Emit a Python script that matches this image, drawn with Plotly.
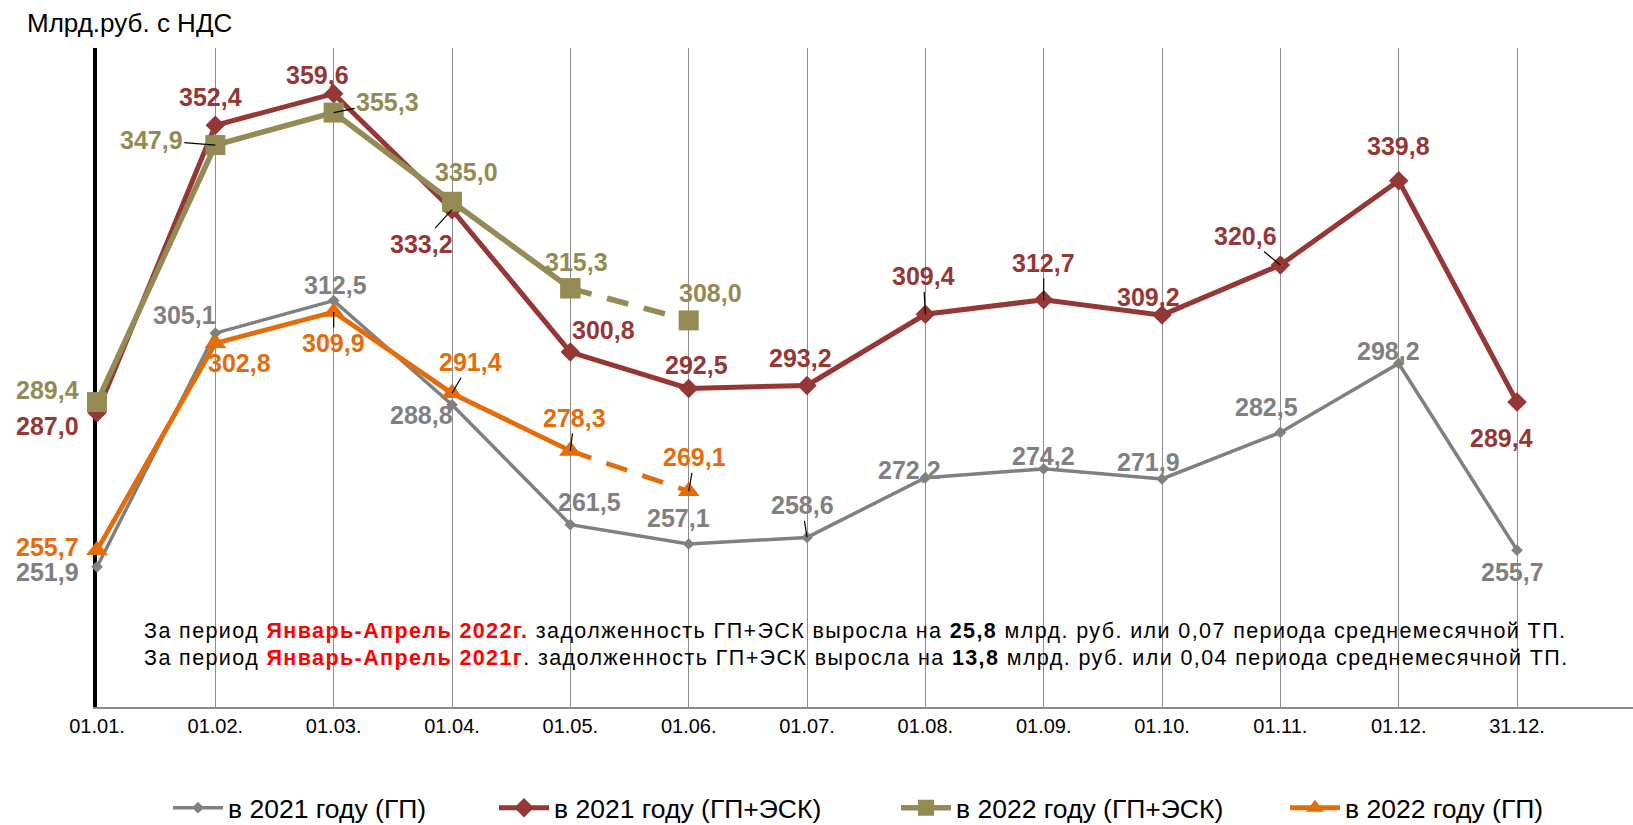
import plotly.graph_objects as go

# ---------------- data ----------------
categories = ["01.01.", "01.02.", "01.03.", "01.04.", "01.05.", "01.06.", "01.07.",
              "01.08.", "01.09.", "01.10.", "01.11.", "01.12.", "31.12."]
gp_2021 = [251.9, 305.1, 312.5, 288.8, 261.5, 257.1, 258.6, 272.2, 274.2, 271.9, 282.5, 298.2, 255.7]
gpesk_2021 = [287.0, 352.4, 359.6, 333.2, 300.8, 292.5, 293.2, 309.4, 312.7, 309.2, 320.6, 339.8, 289.4]
gpesk_2022 = [289.4, 347.9, 355.3, 335.0, 315.3, 308.0]
gp_2022 = [255.7, 302.8, 309.9, 291.4, 278.3, 269.1]
n_solid_2022 = 5  # last point (01.06.) is shown as dashed continuation

name_gp_2021 = "в 2021 году (ГП)"
name_gpesk_2021 = "в 2021 году (ГП+ЭСК)"
name_gpesk_2022 = "в 2022 году (ГП+ЭСК)"
name_gp_2022 = "в 2022 году (ГП)"

# ---------------- styles ----------------
C_GRAY = "#808080"
C_RED = "#953735"
C_GOLD = "#948A54"
C_ORANGE = "#E46C0A"
FONT = "Arial, Liberation Sans, sans-serif"

# label offsets in px (dx right, dy down, leader line)
off_gp_2021 = [(-50, 5, 0), (-31, -18, 0), (2, -16, 0), (-31, 10, 0), (19, -23, 0), (-10, -26, 0),
               (-5, -32, 1), (-16, -8, 0), (0, -13, 0), (-14, -17, 0), (-14, -25, 0), (-10, -12, 0),
               (-5, 22, 0)]
off_gpesk_2021 = [(-50, 13, 0), (-5, -28, 0), (-16, -19, 0), (-31, 34, 1), (33, -22, 0), (8, -23, 0),
                  (-7, -27, 0), (-2, -38, 1), (0, -37, 1), (-14, -18, 0), (-35, -29, 1), (0, -35, 0),
                  (-16, 36, 0)]
off_gpesk_2022 = [(-50, -12, 0), (-64, -5, 1), (54, -11, 1), (14, -30, 0), (6, -26, 0), (22, -27, 0)]
off_gp_2022 = [(-50, -3, 0), (24, 20, 0), (0, 31, 1), (18, -31, 1), (4, -33, 1), (6, -34, 1)]

fig = go.Figure()

def add_series(values, name, color, width, symbol, msize, legend, dashed_from=None):
    n = len(values) if dashed_from is None else dashed_from
    fig.add_trace(go.Scatter(
        x=categories[:n], y=values[:n], name=name, mode="lines+markers",
        line=dict(color=color, width=width),
        marker=dict(symbol=symbol, size=msize, color=color),
        cliponaxis=False, legend=legend, hoverinfo="skip"))
    if dashed_from is not None:
        fig.add_trace(go.Scatter(
            x=categories[n - 1:len(values)], y=values[n - 1:], mode="lines+markers",
            line=dict(color=color, width=width, dash="22px,16px"),
            marker=dict(symbol=symbol, size=msize, color=color),
            cliponaxis=False, showlegend=False, hoverinfo="skip"))

add_series(gp_2021, name_gp_2021, C_GRAY, 3.5, "diamond", 9, "legend")
add_series(gpesk_2021, name_gpesk_2021, C_RED, 5, "diamond", 15, "legend2")
add_series(gpesk_2022, name_gpesk_2022, C_GOLD, 5.5, "square", 20, "legend3", dashed_from=n_solid_2022)
add_series(gp_2022, name_gp_2022, C_ORANGE, 4.8, "triangle-up", 19, "legend4", dashed_from=n_solid_2022)

annotations = []

def add_labels(values, offsets, color):
    for i, v in enumerate(values):
        dx, dy, leader = offsets[i]
        txt = f"{v:.1f}".replace(".", ",")
        common = dict(x=categories[i], y=v, xref="x", yref="y", text=f"<b>{txt}</b>",
                      font=dict(family=FONT, size=25, color=color))
        if leader:
            annotations.append(dict(common, showarrow=True, ax=dx, ay=dy, arrowhead=0,
                                    arrowwidth=1.2, arrowcolor="black", standoff=0))
        else:
            annotations.append(dict(common, showarrow=False, xshift=dx, yshift=-dy))

add_labels(gp_2021, off_gp_2021, C_GRAY)
add_labels(gpesk_2021, off_gpesk_2021, C_RED)
add_labels(gpesk_2022, off_gpesk_2022, C_GOLD)
add_labels(gp_2022, off_gp_2022, C_ORANGE)

W, H = 1633, 825
ML, MR, MT, MB = 97, 0, 48, 118
PW, PH = W - ML - MR, H - MT - MB

def px(xp):
    return (xp - ML) / PW

def py(yp):
    return (H - MB - yp) / PH

annotations.append(dict(text="Млрд.руб. с НДС", xref="paper", yref="paper", x=px(25), y=py(23),
                        xanchor="left", yanchor="middle", showarrow=False,
                        font=dict(family=FONT, size=26, color="black")))

line1 = ("<span style='letter-spacing:1.4px'>За период <span style='color:#FF0000'><b>Январь-Апрель 2022г.</b></span> "
         "задолженность ГП+ЭСК выросла на <b>25,8</b> млрд. руб. или 0,07 периода среднемесячной ТП.</span>")
line2 = ("<span style='letter-spacing:1.4px'>За период <span style='color:#FF0000'><b>Январь-Апрель 2021г</b></span>. "
         "задолженность ГП+ЭСК выросла на <b>13,8</b> млрд. руб. или 0,04 периода среднемесячной ТП.</span>")
for txt, yc in ((line1, 631), (line2, 658)):
    annotations.append(dict(text=txt, xref="paper", yref="paper", x=px(142), y=py(yc),
                            xanchor="left", yanchor="middle", showarrow=False,
                            font=dict(family=FONT, size=21.5, color="black")))

leg_common = dict(orientation="h", yanchor="middle", y=py(808), xanchor="left",
                  font=dict(family=FONT, size=26.5, color="black"), bgcolor="rgba(0,0,0,0)",
                  itemwidth=50, borderwidth=0)
legend_x = [178, 504, 906, 1295]

fig.update_layout(
    width=W, height=H,
    margin=dict(l=ML, r=MR, t=MT, b=MB, autoexpand=False),
    paper_bgcolor="white", plot_bgcolor="white",
    showlegend=True,
    legend=dict(leg_common, x=px(legend_x[0] - 10)),
    legend2=dict(leg_common, x=px(legend_x[1] - 10)),
    legend3=dict(leg_common, x=px(legend_x[2] - 10)),
    legend4=dict(leg_common, x=px(legend_x[3] - 10)),
    xaxis=dict(type="category", categoryorder="array", categoryarray=categories,
               range=[0, 12.98], showgrid=True, gridcolor="#8C8C8C", gridwidth=1.3,
               showline=True, linecolor="#8C8C8C", linewidth=2, ticks="",
               tickfont=dict(family=FONT, size=20, color="black"), layer="below traces",
               zeroline=False),
    yaxis=dict(range=[220, 370], showgrid=False, showticklabels=False, ticks="",
               showline=True, linecolor="black", linewidth=3.5, zeroline=False,
               layer="below traces"),
    annotations=annotations,
    hovermode=False,
)

fig.write_html("out.html", config={"displayModeBar": False},
               post_script="document.body.style.margin='0';")
